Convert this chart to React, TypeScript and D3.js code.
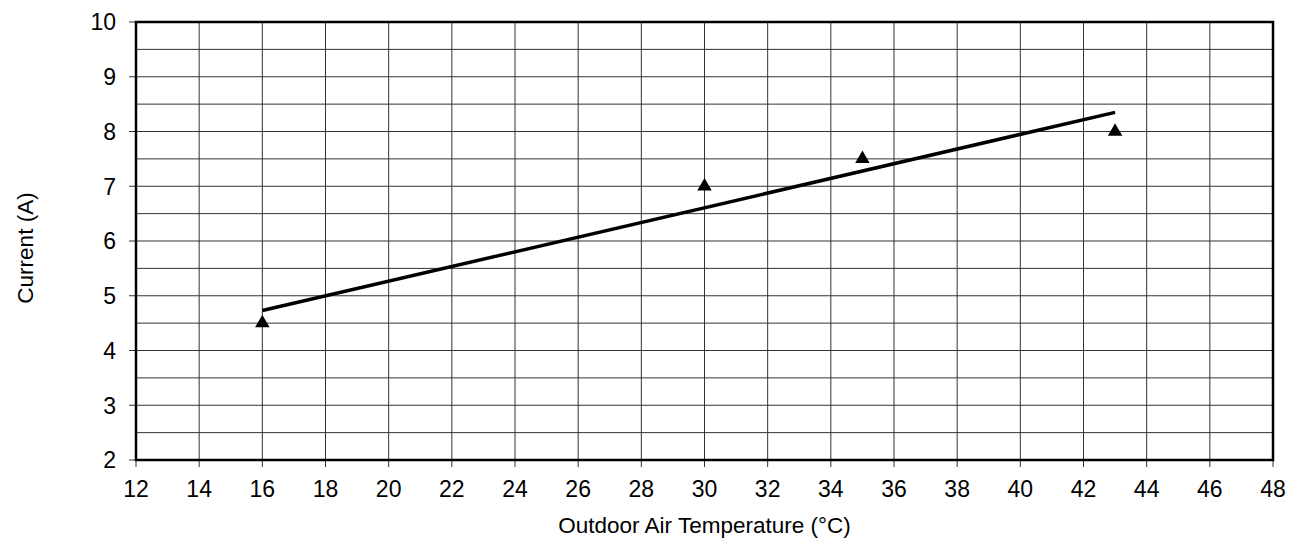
import React from "react";
import * as d3 from "d3";

const tempPoints = [16, 30, 35, 43];
const currentPoints = [4.5, 7.0, 7.5, 8.0];
const fitX = [16, 43];
const fitY = [4.73, 8.35];
const xTicks = d3.range(12, 49, 2);
const yTicks = d3.range(2, 11, 1);
const yGrid = d3.range(2, 10.01, 0.5);

export default function App() {
  const W = 1307, H = 543;
  const left = 136, right = 1273, top = 22, bottom = 460;
  const x = d3.scaleLinear().domain([12, 48]).range([left, right]);
  const y = d3.scaleLinear().domain([2, 10]).range([bottom, top]);
  const line = d3.line<number>().x((_, i) => x(fitX[i])).y((d) => y(d));
  const tri = d3.symbol().type(d3.symbolTriangle).size(90)();
  const font = "'Liberation Sans', Arial, sans-serif";
  return (
    <svg width={W} height={H} style={{ position: "absolute", left: 0, top: 0, background: "#fff" }}>
      <g>
        {yGrid.map((v) => (
          <line key={"h" + v} x1={left} x2={right} y1={y(v)} y2={y(v)} stroke="#333" strokeWidth={1} />
        ))}
        {xTicks.map((v) => (
          <line key={"v" + v} x1={x(v)} x2={x(v)} y1={top} y2={bottom} stroke="#333" strokeWidth={1} />
        ))}
        {yTicks.map((v) => (
          <g key={"yt" + v}>
            <line x1={left - 7} x2={left} y1={y(v)} y2={y(v)} stroke="#333" strokeWidth={1} />
            <text x={116} y={y(v)} dy="0.36em" textAnchor="end" fontFamily={font} fontSize={23} fill="#000">{v}</text>
          </g>
        ))}
        {xTicks.map((v) => (
          <g key={"xt" + v}>
            <line x1={x(v)} x2={x(v)} y1={bottom} y2={bottom + 7} stroke="#333" strokeWidth={1} />
            <text x={x(v)} y={497} textAnchor="middle" fontFamily={font} fontSize={23} fill="#000">{v}</text>
          </g>
        ))}
        <rect x={left} y={top} width={right - left} height={bottom - top} fill="none" stroke="#000" strokeWidth={2.5} />
        <path d={line(fitY) || ""} fill="none" stroke="#000" strokeWidth={3.5} />
        {tempPoints.map((t, i) => (
          <path key={"p" + i} d={tri || ""} transform={`translate(${x(t)},${y(currentPoints[i])})`} fill="#000" />
        ))}
        <text x={x(30)} y={533} textAnchor="middle" fontFamily={font} fontSize={22.5} fill="#000">Outdoor Air Temperature (°C)</text>
        <text transform={`translate(33,248) rotate(-90)`} textAnchor="middle" fontFamily={font} fontSize={22.5} fill="#000">Current (A)</text>
      </g>
    </svg>
  );
}
